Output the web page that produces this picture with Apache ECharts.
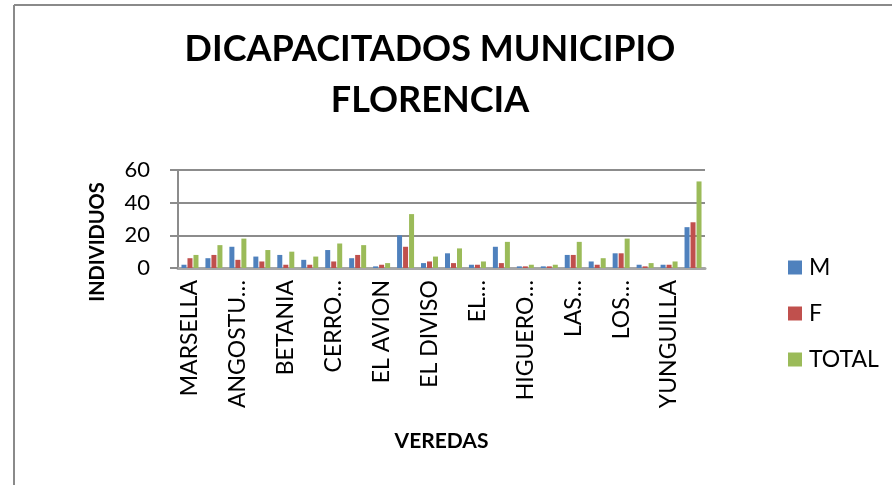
<!DOCTYPE html>
<html>
<head>
<meta charset="utf-8">
<style>
  html, body { margin: 0; padding: 0; background: #fff; }
  #chart { width: 892px; height: 485px; }
</style>
<script src="https://cdn.jsdelivr.net/npm/echarts@6/dist/echarts.min.js"></script>
</head>
<body>
<div id="chart"></div>
<script>
var chart = echarts.init(document.getElementById('chart'));

// veredas (only every other name is printed on the axis)
const veredas = [
  'MARSELLA', 'ALTAMIRA', 'ANGOSTURA', 'BELLAVISTA', 'BETANIA', 'BUENOS AIRES',
  'CERRO GORDO', 'CUCHILLA', 'EL AVION', 'EL CARMELO', 'EL DIVISO', 'EL HATO',
  'EL ROSARIO', 'GUAYABAL', 'HIGUERONES', 'LA ESPERANZA', 'LAS MINAS', 'LOS ANDES',
  'LOS OLIVOS', 'SAN ANTONIO', 'YUNGUILLA', 'ZARZAL'
];
// text as it is shown under the axis
const tickLabels = [
  'MARSELLA', '', 'ANGOSTU…', '', 'BETANIA', '',
  'CERRO…', '', 'EL AVION', '', 'EL DIVISO', '',
  'EL…', '', 'HIGUERO…', '', 'LAS…', '',
  'LOS…', '', 'YUNGUILLA', ''
];
const hombres = [2, 6, 13, 7, 8, 5, 11, 6, 1, 20, 3, 9, 2, 13, 1, 1, 8, 4, 9, 2, 2, 25];
const mujeres = [6, 8, 5, 4, 2, 2, 4, 8, 2, 13, 4, 3, 2, 3, 1, 1, 8, 2, 9, 1, 2, 28];
const totales = [8, 14, 18, 11, 10, 7, 15, 14, 3, 33, 7, 12, 4, 16, 2, 2, 16, 6, 18, 3, 4, 53];
const yTicks = [0, 20, 40, 60];

const font = 'Lato, "Open Sans", sans-serif';

function barSeries(name, data, color) {
  return {
    name: name,
    type: 'bar',
    data: data,
    barWidth: 5,
    barGap: '20%',
    itemStyle: { color: color }
  };
}

var option = {
  animation: false,
  textStyle: { fontFamily: font },
  title: {
    text: 'DICAPACITADOS MUNICIPIO\nFLORENCIA',
    left: 425,
    top: 19,
    textAlign: 'center',
    textStyle: {
      fontFamily: font,
      fontWeight: 'bold',
      fontSize: 36,
      lineHeight: 51,
      color: '#000'
    }
  },
  legend: {
    orient: 'vertical',
    left: 783,
    top: 251,
    itemWidth: 14,
    itemHeight: 14,
    itemGap: 23,
    icon: 'rect',
    textStyle: { fontFamily: font, fontSize: 23, color: '#000', padding: [0, 0, 0, 2] },
    data: ['M', 'F', 'TOTAL']
  },
  grid: { left: 178, right: 187, top: 170, bottom: 217 },
  xAxis: {
    type: 'category',
    data: veredas,
    name: 'VEREDAS',
    nameLocation: 'middle',
    nameGap: 163,
    nameTextStyle: { fontFamily: font, fontWeight: 'bold', fontSize: 21, color: '#000' },
    axisLine: { lineStyle: { color: '#a6a6a6', width: 3 } },
    axisTick: { show: false },
    axisLabel: {
      interval: 1,
      rotate: 90,
      margin: 12,
      fontSize: 23,
      color: '#000',
      formatter: function (v, i) { return tickLabels[i]; }
    }
  },
  yAxis: {
    type: 'value',
    min: yTicks[0],
    max: yTicks[yTicks.length - 1],
    interval: 20,
    name: 'INDIVIDUOS',
    nameLocation: 'middle',
    nameRotate: 90,
    nameGap: 70,
    nameTextStyle: {
      fontFamily: font, fontWeight: 'bold', fontSize: 20, color: '#000',
      padding: [0, 46, 0, 0]
    },
    axisLine: { show: true, lineStyle: { color: '#8c8c8c', width: 2 } },
    axisTick: { show: true, length: 8, lineStyle: { color: '#8c8c8c', width: 2 } },
    axisLabel: { fontSize: 22, color: '#000', margin: 28 },
    splitLine: { lineStyle: { color: '#8c8c8c', width: 2 } }
  },
  graphic: [
    { type: 'line', shape: { x1: 14, y1: 5, x2: 892, y2: 5 }, style: { stroke: '#8a8a8a', lineWidth: 2 } },
    { type: 'line', shape: { x1: 14, y1: 5, x2: 14, y2: 485 }, style: { stroke: '#8a8a8a', lineWidth: 2 } }
  ],
  series: [
    barSeries('M', hombres, '#4f81bd'),
    barSeries('F', mujeres, '#c0504d'),
    barSeries('TOTAL', totales, '#9bbb59')
  ]
};

option && chart.setOption(option);
</script>
</body>
</html>
